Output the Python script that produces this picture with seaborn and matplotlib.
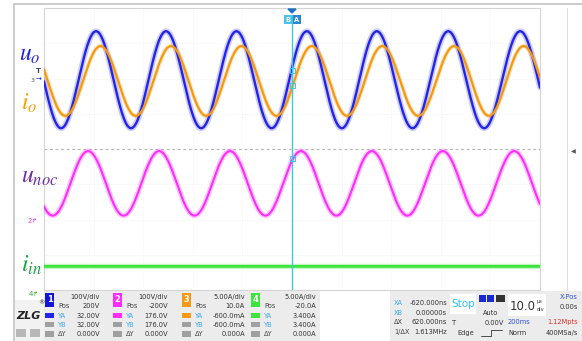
import numpy as np
import pandas as pd
import seaborn as sns
import matplotlib.pyplot as plt
from matplotlib.patches import Rectangle, Polygon
from matplotlib.lines import Line2D

# ---- captured channels (time in microseconds) ----
time_range = [-50.0, 50.0]          # 10 divisions at 10 us/div
ch_scale = [100.0, 100.0, 5.0, 5.0]  # units per division (ch1..ch4)
ch_offset = [200.0, -200.0, 10.0, -20.0]  # Pos setting of each channel

# ch1: output voltage u_o (V)
uo_peak_t = [-39.5, -25.4, -11.2, 3.0, 17.1, 31.5, 46.0]
uo_high, uo_low = 134.0, -141.0
# ch2: voltage u_noc (V)
unoc_peak_t = [-41.1, -26.8, -12.5, 1.8, 16.1, 30.4, 44.8]
unoc_high, unoc_low = 194.0, 11.0
# ch3: output current i_o (A)
io_peak_t = [-38.6, -24.4, -10.2, 4.0, 18.2, 32.7, 46.7]
io_high, io_low = 4.6, -5.3
# ch4: input current i_in (A)
iin_level = 3.35

ch_colors = ['#2424e8', '#ff2cff', '#f39a12', '#3ee43e']
div_labels = ['100V/div', '100V/div', '5.00A/div', '5.00A/div']
pos_labels = ['200V', '-200V', '10.0A', '-20.0A']
ya_labels = ['32.00V', '176.0V', '-600.0mA', '3.400A']
yb_labels = ['32.00V', '176.0V', '-600.0mA', '3.400A']
dy_labels = ['0.000V', '0.000V', '0.000A', '0.000A']


def waveform(peaks, hi, lo, t):
    """Periodic trace passing through the given peak instants."""
    p = np.asarray(peaks, dtype=float)
    knots = np.concatenate([[p[0] - (p[1] - p[0])], p, [p[-1] + (p[-1] - p[-2])]])
    idx = np.clip(np.searchsorted(knots, t, side='right') - 1, 0, len(knots) - 2)
    phase = (t - knots[idx]) / (knots[idx + 1] - knots[idx])
    return (hi + lo) / 2 + (hi - lo) / 2 * np.cos(2 * np.pi * phase)


def to_div(values, ch):
    return (np.asarray(values) + ch_offset[ch]) / ch_scale[ch]


sns.set_theme(style='white')
plt.rcParams['font.family'] = ['DejaVu Sans']
plt.rcParams['mathtext.fontset'] = 'stix'

W, H = 582, 341
fig = plt.figure(figsize=(W / 100, H / 100), dpi=100)
fig.patch.set_facecolor('white')


def fx(x):
    return x / W


def fy(y):
    return 1 - y / H


def prect(x, y, w, h, **kw):
    fig.patches.append(Rectangle((fx(x), fy(y + h)), w / W, h / H,
                                 transform=fig.transFigure, **kw))


def pline(xs, ys, **kw):
    fig.lines.append(Line2D([fx(v) for v in xs], [fy(v) for v in ys],
                            transform=fig.transFigure, **kw))


def ptext(x, y, s, **kw):
    fig.text(fx(x), fy(y), s, **kw)


# ---- screen frame ----
pline([14, 14], [4, 341], color='#c4c4c4', lw=1.2)
pline([14, 582], [4, 4], color='#c4c4c4', lw=1.2)
pline([567, 567], [8, 290], color='#dedede', lw=0.8)
ptext(573, 152, '\u25c0', fontsize=4.5, color='#555555', ha='center', va='center')

# ---- waveform area ----
ax = fig.add_axes([fx(44), fy(290), fx(540) - fx(44), fy(8) - fy(290)])
ax.set_xlim(*time_range)
ax.set_ylim(-4, 4)
ax.set_xticks(np.arange(-50, 51, 10))
ax.set_yticks(np.arange(-4, 5, 1))
ax.set_xticklabels([])
ax.set_yticklabels([])
ax.tick_params(length=0)
ax.grid(True, color='#eeeeee', lw=0.6, ls=(0, (1, 2)))
for s in ax.spines.values():
    s.set_color('#d4d4d4')
    s.set_linewidth(0.8)
ax.axhline(0, color='#b4b4b4', lw=0.8, ls=(0, (2.5, 2.5)), zorder=1)

t = np.linspace(time_range[0], time_range[1], 1500)
df = pd.DataFrame({
    't': t,
    'uo': to_div(waveform(uo_peak_t, uo_high, uo_low, t), 0),
    'unoc': to_div(waveform(unoc_peak_t, unoc_high, unoc_low, t), 1),
    'io': to_div(waveform(io_peak_t, io_high, io_low, t), 2),
    'iin': to_div(np.full_like(t, iin_level), 3),
})

traces = [('iin', ch_colors[3], 2.0, 3.8, 0.3),
          ('unoc', ch_colors[1], 1.5, 3.8, 0.25),
          ('uo', ch_colors[0], 1.7, 4.2, 0.22),
          ('io', ch_colors[2], 1.6, 3.2, 0.25)]
for col, color, lw, halo, a in traces:
    sns.lineplot(data=df, x='t', y=col, ax=ax, color=color, lw=halo, alpha=a,
                 estimator=None, sort=False, zorder=3)
    sns.lineplot(data=df, x='t', y=col, ax=ax, color=color, lw=lw,
                 estimator=None, sort=False, zorder=4)
ax.set_xlabel('')
ax.set_ylabel('')

# cursors A/B
ax.axvline(0, ymax=(290 - 15) / 282, color='#3cc8e0', lw=1.0, zorder=5)
prect(284, 15, 8, 9, facecolor='#46c2ec', edgecolor='none')
prect(293, 15, 8, 9, facecolor='#2c86d6', edgecolor='none')
ptext(288, 19.5, 'B', fontsize=4.8, color='white', ha='center', va='center', weight='bold')
ptext(297, 19.5, 'A', fontsize=4.8, color='white', ha='center', va='center', weight='bold')
fig.patches.append(Polygon([(fx(288), fy(9)), (fx(296), fy(9)), (fx(292), fy(13))],
                           closed=True, transform=fig.transFigure, color='#1f6fc0'))
for yy in (70, 85, 158):
    prect(289.5, yy - 2.5, 5, 5, facecolor='none', edgecolor='#3cc8e0', lw=0.7)

# channel names
ptext(19, 61, r'$u_o$', fontsize=17, color='#2020e0')
ptext(21, 110, r'$i_o$', fontsize=17, color='#f5a000')
ptext(21, 183, r'$u_{noc}$', fontsize=17, color='#6a2aa2')
ptext(21, 272, r'$i_{in}$', fontsize=17, color='#1aa040')

# ground / trigger markers
ptext(38, 71, 'T', fontsize=5, color='#444444', ha='center', va='center', weight='bold')
ptext(33, 80, '3', fontsize=4.5, color='#555555', ha='center', va='center')
ptext(39, 79.5, '\u2192', fontsize=5, color='#2020e0', ha='center', va='center')
ptext(33, 221, '2\u21b1', fontsize=5, color='#e040e0', ha='center', va='center')
ptext(34, 294, '4\u21b1', fontsize=5, color='#30b030', ha='center', va='center')

# ---- status bar ----
prect(44, 291, 276, 50, facecolor='#ececec', edgecolor='none')
prect(15, 300, 29, 41, facecolor='#f2f2f2', edgecolor='none')
prect(390, 291, 192, 50, facecolor='#ececec', edgecolor='none')
ptext(28, 316, 'ZLG', fontsize=8, color='#222222', ha='center', va='center',
      style='italic', weight='bold')
ptext(41, 303, '\u00ae', fontsize=4.5, color='#222222', ha='center', va='center')
prect(16, 329, 10, 8, facecolor='#b8b8b8', edgecolor='none')
prect(30, 329, 10, 8, facecolor='#b8b8b8', edgecolor='none')

tab_x = [45, 113, 182, 251]
val_right = [100, 168, 245, 316]
small = dict(fontsize=4.8, va='center')
for i in range(4):
    x0, xr = tab_x[i], val_right[i]
    prect(x0, 293, 9, 14, facecolor=ch_colors[i] if i != 0 else '#1414d8', edgecolor='none')
    ptext(x0 + 4.5, 300, str(i + 1), fontsize=6, color='white', ha='center',
          va='center', weight='bold')
    prect(x0, 313, 9, 5, facecolor=ch_colors[i], edgecolor='none')
    prect(x0, 322, 9, 5, facecolor='#a0a0a0', edgecolor='none')
    prect(x0, 331, 9, 6, facecolor='#a0a0a0', edgecolor='none')
    ptext(xr, 297, div_labels[i], color='#333333', ha='right', **small)
    ptext(x0 + 13, 306, 'Pos', color='#444444', ha='left', **small)
    ptext(xr, 306, pos_labels[i], color='#333333', ha='right', **small)
    ptext(x0 + 13, 316, 'YA', color='#3aa8e8', ha='left', **small)
    ptext(xr, 316, ya_labels[i], color='#333333', ha='right', **small)
    ptext(x0 + 13, 325, 'YB', color='#3aa8e8', ha='left', **small)
    ptext(xr, 325, yb_labels[i], color='#333333', ha='right', **small)
    ptext(x0 + 13, 334, '\u0394Y', color='#444444', ha='left', **small)
    ptext(xr, 334, dy_labels[i], color='#333333', ha='right', **small)

# horizontal cursor readout
rows = [('XA', '-620.000ns', '#3aa8e8'), ('XB', '0.00000s', '#3aa8e8'),
        ('\u0394X', '620.000ns', '#444444'), ('1/\u0394X', '1.613MHz', '#444444')]
for k, (lab, val, c) in enumerate(rows):
    yy = 303 + 9.7 * k
    ptext(394, yy, lab, color=c, ha='left', **small)
    ptext(447, yy, val, color='#333333', ha='right', **small)

prect(450, 294, 26, 20, facecolor='white', edgecolor='none')
ptext(463, 304, 'Stop', fontsize=7.5, color='#30c0f0', ha='center', va='center')
prect(479, 295, 7, 7, facecolor='#1a2ad0', edgecolor='none')
prect(487, 295, 7, 7, facecolor='#1a2ad0', edgecolor='none')
prect(496, 295, 9, 7, facecolor='#333333', edgecolor='none')
ptext(491, 313, 'Auto', color='#333333', ha='center', **small)
ptext(452, 323, 'T', color='#333333', ha='left', **small)
ptext(504, 323, '0.00V', color='#333333', ha='right', **small)
ptext(457, 333, 'Edge', color='#333333', ha='left', **small)
pline([481, 491, 491, 502], [336, 336, 330, 330], color='#333333', lw=0.6)

prect(508, 294, 38, 22, facecolor='white', edgecolor='none')
ptext(510, 306, '10.0', fontsize=8.5, color='#333333', ha='left', va='center')
ptext(537, 302, '\u03bcs', fontsize=3.6, color='#333333', ha='left', va='center')
ptext(537, 309.5, 'div', fontsize=3.6, color='#333333', ha='left', va='center')
ptext(578, 297, 'X-Pos', color='#3050e0', ha='right', **small)
ptext(578, 307, '0.00s', color='#333333', ha='right', **small)
ptext(508, 322, '200ms', color='#3050e0', ha='left', **small)
ptext(578, 322, '1.12Mpts', color='#e03030', ha='right', **small)
ptext(508, 333, 'Norm', color='#333333', ha='left', **small)
ptext(578, 333, '400MSa/s', color='#333333', ha='right', **small)

fig.savefig('out.png', dpi=100)
